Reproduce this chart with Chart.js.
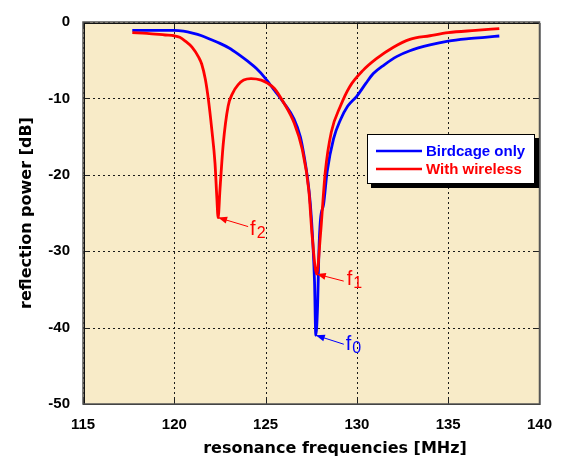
<!DOCTYPE html>
<html>
<head>
<meta charset="utf-8">
<script src="https://cdn.jsdelivr.net/npm/chart.js@4.4.1/dist/chart.umd.min.js"></script>
<style>
    body { margin: 0; background: #fff; }
</style>
</head>
<body>
<canvas id="grafico" width="564" height="464"></canvas>
<script>
// values (MHz, dB)
var freqBirdcage = [117.7, 118.5, 119.5, 120.0, 120.5, 121.0, 121.5, 122.0, 122.5, 123.0, 123.5, 124.0, 124.5, 125.0, 125.5, 126.0, 126.56, 126.9, 127.1, 127.3, 127.45, 127.58, 127.68, 127.75, 127.85, 127.92, 128.0, 128.18, 128.37, 128.72, 129.1, 129.5, 130.0, 130.5, 130.9, 131.5, 132.2, 132.9, 134.0, 135.0, 136.0, 137.0, 137.8];
var dbBirdcage   = [-1.1, -1.1, -1.1, -1.1, -1.2, -1.45, -1.8, -2.3, -2.8, -3.4, -4.2, -5.1, -6.1, -7.4, -9.0, -10.6, -12.7, -15.0, -17.4, -20.5, -23.8, -28.5, -34.0, -41.0, -37.0, -30.0, -26.0, -23.8, -19.6, -15.3, -12.8, -11.0, -9.7, -8.0, -6.75, -5.6, -4.5, -3.76, -3.0, -2.5, -2.2, -2.0, -1.83];

var freqWireless = [117.7, 118.5, 119.5, 120.0, 120.3, 120.6, 120.97, 121.33, 121.5, 121.7, 121.87, 122.05, 122.23, 122.33, 122.4, 122.5, 122.68, 122.95, 123.2, 123.5, 123.8, 124.2, 124.76, 125.1, 125.48, 126.0, 126.56, 127.0, 127.37, 127.55, 127.8, 128.0, 128.27, 128.6, 129.1, 129.6, 130.35, 131.07, 132.0, 132.9, 134.0, 135.0, 136.5, 137.8];
var dbWireless   = [-1.4, -1.5, -1.7, -1.8, -2.0, -2.5, -3.3, -4.6, -5.5, -7.5, -10.2, -14.0, -18.5, -23.0, -25.6, -22.0, -16.0, -11.0, -9.3, -8.2, -7.6, -7.4, -7.6, -8.0, -8.7, -10.6, -13.2, -16.6, -22.1, -28.0, -33.0, -28.0, -19.6, -14.4, -11.0, -8.5, -6.3, -4.8, -3.3, -2.27, -1.8, -1.4, -1.1, -0.86];

var etiquetas = ['Birdcage only', 'With wireless'];
var colores = ['#0000ff', '#ff0000'];

var xMin = 115, xMax = 140, xPaso = 5;
var yMin = -50, yMax = 0, yPaso = 10;

// resonance markers f0, f1, f2
var marcaFreq = [127.75, 127.8, 122.4];
var marcaDb = [-41, -33, -25.6];
var marcaSub = ['0', '1', '2'];
var marcaColor = ['#0000ff', '#ff0000', '#ff0000'];
var marcaOffset = [[28, 9, 30, 15], [27, 7, 30, 11], [30, 9, 32, 17]]; // tail dx, dy, text dx, baseline dy

function puntos(xs, ys) {
    var out = [];
    for (var i = 0; i < xs.length; i++) out.push({ x: xs[i], y: ys[i] });
    return out;
}

function flecha(ctx, x0, y0, x1, y1, color) {
    var ang = Math.atan2(y1 - y0, x1 - x0);
    var L = 9, W = 3.5;
    ctx.strokeStyle = color;
    ctx.fillStyle = color;
    ctx.lineWidth = 1;
    ctx.beginPath();
    ctx.moveTo(x0, y0);
    ctx.lineTo(x1, y1);
    ctx.stroke();
    ctx.beginPath();
    ctx.moveTo(x1, y1);
    ctx.lineTo(x1 - L * Math.cos(ang) + W * Math.sin(ang), y1 - L * Math.sin(ang) - W * Math.cos(ang));
    ctx.lineTo(x1 - L * Math.cos(ang) - W * Math.sin(ang), y1 - L * Math.sin(ang) + W * Math.cos(ang));
    ctx.closePath();
    ctx.fill();
}

var fondo = {
    id: 'fondo',
    beforeDraw: function (chart) {
        var a = chart.chartArea, ctx = chart.ctx;
        ctx.save();
        ctx.fillStyle = '#ffffff';
        ctx.fillRect(0, 0, chart.width, chart.height);
        ctx.fillStyle = '#f8ebc8';
        ctx.fillRect(a.left, a.top, a.right - a.left, a.bottom - a.top);
        ctx.restore();
    },
    beforeDatasetsDraw: function (chart) {
        // dotted grid, matlab style
        var a = chart.chartArea, ctx = chart.ctx;
        var sx = chart.scales.x, sy = chart.scales.y;
        ctx.save();
        ctx.strokeStyle = '#1a1a1a';
        ctx.lineWidth = 1;
        ctx.setLineDash([2, 3]);
        sx.ticks.forEach(function (t) {
            var px = Math.round(sx.getPixelForValue(t.value)) + 0.5;
            ctx.beginPath();
            ctx.moveTo(px, a.top); ctx.lineTo(px, a.bottom);
            ctx.stroke();
        });
        sy.ticks.forEach(function (t) {
            var py = Math.round(sy.getPixelForValue(t.value)) + 0.5;
            ctx.beginPath();
            ctx.moveTo(a.left, py); ctx.lineTo(a.right, py);
            ctx.stroke();
        });
        ctx.restore();
    },
    afterDraw: function (chart) {
        var a = chart.chartArea, ctx = chart.ctx;
        var sx = chart.scales.x, sy = chart.scales.y;
        ctx.save();

        // frame with inward ticks
        ctx.strokeStyle = '#222';
        ctx.lineWidth = 1;
        sx.ticks.forEach(function (t) {
            var px = Math.round(sx.getPixelForValue(t.value)) + 0.5;
            ctx.beginPath();
            ctx.moveTo(px, a.bottom); ctx.lineTo(px, a.bottom - 5);
            ctx.moveTo(px, a.top); ctx.lineTo(px, a.top + 5);
            ctx.stroke();
        });
        sy.ticks.forEach(function (t) {
            var py = Math.round(sy.getPixelForValue(t.value)) + 0.5;
            ctx.beginPath();
            ctx.moveTo(a.left, py); ctx.lineTo(a.left + 5, py);
            ctx.moveTo(a.right, py); ctx.lineTo(a.right - 5, py);
            ctx.stroke();
        });
        ctx.strokeStyle = '#111';
        ctx.lineWidth = 1;
        ctx.strokeRect(a.left + 1.5, a.top + 1.5, a.right - a.left - 1, a.bottom - a.top - 1);
        ctx.strokeStyle = '#555';
        ctx.lineWidth = 1.5;
        ctx.strokeRect(a.left, a.top, a.right - a.left, a.bottom - a.top);

        // markers
        for (var i = 0; i < marcaFreq.length; i++) {
            var tx = sx.getPixelForValue(marcaFreq[i]);
            var ty = sy.getPixelForValue(marcaDb[i]);
            var o = marcaOffset[i];
            flecha(ctx, tx + o[0], ty + o[1], tx, ty, marcaColor[i]);
            ctx.fillStyle = marcaColor[i];
            ctx.textAlign = 'left';
            ctx.textBaseline = 'alphabetic';
            ctx.font = '20px "Liberation Sans", Arial, sans-serif';
            ctx.fillText('f', tx + o[2], ty + o[3]);
            var w = ctx.measureText('f').width;
            ctx.font = '16px "Liberation Sans", Arial, sans-serif';
            ctx.fillText(marcaSub[i], tx + o[2] + w + 1, ty + o[3] + 3);
        }

        // legend box
        var bx = 367, by = 134, bw = 168, bh = 50;
        ctx.fillStyle = '#000';
        ctx.fillRect(bx + 4, by + 4, bw, bh);
        ctx.fillStyle = '#fff';
        ctx.fillRect(bx, by, bw, bh);
        ctx.strokeStyle = '#000';
        ctx.lineWidth = 1;
        ctx.strokeRect(bx + 0.5, by + 0.5, bw - 1, bh - 1);
        ctx.font = 'bold 15px "Liberation Sans", Arial, sans-serif';
        ctx.textBaseline = 'middle';
        chart.data.datasets.forEach(function (d, k) {
            var ly = by + 17 + k * 18;
            ctx.strokeStyle = d.borderColor;
            ctx.lineWidth = 2.5;
            ctx.beginPath();
            ctx.moveTo(bx + 9, ly); ctx.lineTo(bx + 55, ly);
            ctx.stroke();
            ctx.fillStyle = d.borderColor;
            ctx.fillText(d.label, bx + 59, ly + 1);
        });

        // x axis title
        ctx.fillStyle = '#000';
        ctx.font = 'bold 16px "DejaVu Sans", sans-serif';
        ctx.textAlign = 'center';
        ctx.textBaseline = 'middle';
        ctx.fillText('resonance frequencies [MHz]', 335, 449);
        ctx.restore();
    }
};

var ctx1 = document.getElementById('grafico').getContext('2d');
window.myChart = new Chart(ctx1, {
    type: 'scatter',
    data: {
        datasets: [{
            label: etiquetas[0],
            data: puntos(freqBirdcage, dbBirdcage),
            borderColor: colores[0],
            backgroundColor: colores[0],
            borderWidth: 2.8,
            showLine: true,
            pointRadius: 0,
            cubicInterpolationMode: 'monotone',
            order: 2
        }, {
            label: etiquetas[1],
            data: puntos(freqWireless, dbWireless),
            borderColor: colores[1],
            backgroundColor: colores[1],
            borderWidth: 2.8,
            showLine: true,
            pointRadius: 0,
            cubicInterpolationMode: 'monotone',
            order: 1
        }]
    },
    options: {
        responsive: false,
        animation: false,
        layout: { padding: { top: 14, right: 19, left: 0, bottom: 0 } },
        plugins: {
            legend: { display: false },
            tooltip: { enabled: false }
        },
        scales: {
            x: {
                type: 'linear',
                min: xMin, max: xMax,
                afterFit: function (s) { s.height = 60; },
                ticks: {
                    stepSize: xPaso,
                    padding: 12,
                    color: '#000',
                    font: { family: '"Liberation Sans", Arial, sans-serif', size: 15, weight: 'bold' }
                },
                grid: { display: false, drawTicks: false },
                border: { display: false }
            },
            y: {
                min: yMin, max: yMax,
                afterFit: function (s) { s.width = 83; },
                ticks: {
                    stepSize: yPaso,
                    padding: 13,
                    color: '#000',
                    font: { family: '"Liberation Sans", Arial, sans-serif', size: 15, weight: 'bold' }
                },
                grid: { display: false, drawTicks: false },
                border: { display: false },
                title: {
                    display: true,
                    text: 'reflection power [dB]',
                    color: '#000',
                    padding: { top: 17, bottom: 0 },
                    font: { family: '"DejaVu Sans", sans-serif', size: 16, weight: 'bold' }
                }
            }
        }
    },
    plugins: [fondo]
});
</script>
</body>
</html>
